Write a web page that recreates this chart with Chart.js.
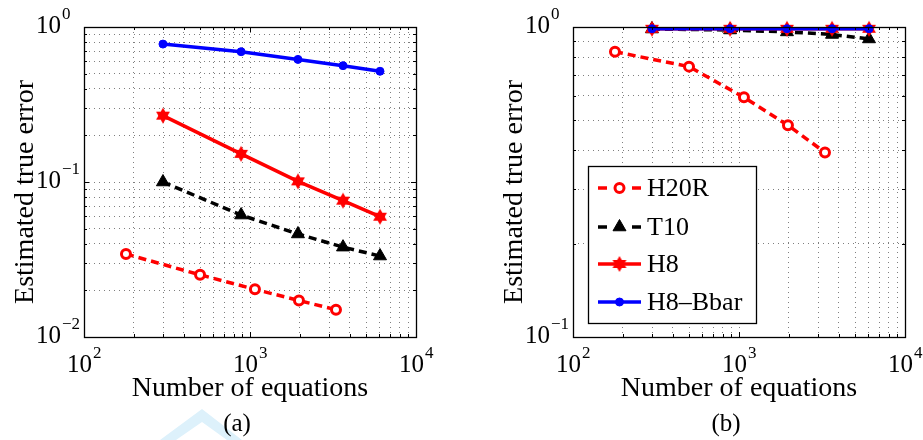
<!DOCTYPE html>
<html>
<head>
<meta charset="utf-8">
<title>Estimated true error vs number of equations</title>
<script src="https://cdn.jsdelivr.net/npm/chart.js@4.4.0/dist/chart.umd.min.js"></script>
<style>
  body { margin: 0; background: #fff; }
  #wrap { position: relative; width: 923px; height: 440px; }
  canvas { position: absolute; top: 0; }
</style>
</head>
<body>
<div id="wrap">
  <canvas id="chartA" width="461" height="440" style="left:0"></canvas>
  <canvas id="chartB" width="462" height="440" style="left:461px"></canvas>
</div>
<script>
// number of equations per mesh
const eqH20R = [179, 500, 1071, 1972, 3296];
const eqMesh = [299, 884, 1945, 3634, 6070];

// (a) estimated true error
const errA_H20R = [0.0343, 0.0252, 0.0203, 0.0172, 0.0150];
const errA_T10 = [0.100, 0.0612, 0.0462, 0.0380, 0.0333];
const errA_H8 = [0.268, 0.152, 0.101, 0.0758, 0.0597];
const errA_Bbar = [0.776, 0.693, 0.618, 0.563, 0.518];

// (b) estimated true error
const errB_H20R = [0.832, 0.745, 0.593, 0.482, 0.394];
const errB_T10 = [0.985, 0.978, 0.964, 0.946, 0.915];
const errB_H8 = [0.987, 0.987, 0.987, 0.987, 0.987];
const errB_Bbar = [0.987, 0.987, 0.987, 0.987, 0.987];

const seriesNames = ['H20R', 'T10', 'H8', 'H8\u2013Bbar'];

// tick labels: mantissa 10 with exponent
const xTicks = [100, 1000, 10000];
const xTickExp = ['2', '3', '4'];
const yTicksA = [0.01, 0.1, 1];
const yTickExpA = ['\u22122', '\u22121', '0'];
const yTicksB = [0.1, 1];
const yTickExpB = ['\u22121', '0'];

const SERIF = "'Liberation Serif', 'Times New Roman', serif";

// filled six-pointed star used as the H8 marker
function hexagram(r, color) {
  const c = document.createElement('canvas');
  const s = Math.ceil(r * 2 + 2);
  c.width = c.height = s;
  const g = c.getContext('2d');
  g.fillStyle = color;
  for (const rot of [-Math.PI / 2, Math.PI / 2]) {
    g.beginPath();
    for (let k = 0; k < 3; k++) {
      const ang = rot + k * 2 * Math.PI / 3;
      g.lineTo(s / 2 + r * Math.cos(ang), s / 2 + r * Math.sin(ang));
    }
    g.closePath();
    g.fill();
  }
  return c;
}
const starMarker = hexagram(8, '#ff0000');

function pts(xs, ys) {
  return xs.map((x, i) => ({ x: x, y: ys[i] }));
}

function buildDatasets(h20r, t10, h8, bbar) {
  return [
    { label: seriesNames[0], data: pts(eqH20R, h20r), order: 4,
      borderColor: '#ff0000', borderWidth: 3.5, borderDash: [8, 5],
      pointStyle: 'circle', pointRadius: 4.5, pointBorderWidth: 3,
      pointBorderColor: '#ff0000', pointBackgroundColor: '#ffffff' },
    { label: seriesNames[1], data: pts(eqMesh, t10), order: 3,
      borderColor: '#000000', borderWidth: 3.5, borderDash: [8, 5],
      pointStyle: 'triangle', pointRadius: 7.5, pointBorderWidth: 1,
      pointBorderColor: '#000000', pointBackgroundColor: '#000000' },
    { label: seriesNames[2], data: pts(eqMesh, h8), order: 2,
      borderColor: '#ff0000', borderWidth: 3.5, borderDash: [],
      pointStyle: starMarker, pointRadius: 8,
      pointBorderColor: '#ff0000', pointBackgroundColor: '#ff0000' },
    { label: seriesNames[3], data: pts(eqMesh, bbar), order: 1,
      borderColor: '#0000ff', borderWidth: 3.5, borderDash: [],
      pointStyle: 'circle', pointRadius: 4, pointBorderWidth: 1,
      pointBorderColor: '#0000ff', pointBackgroundColor: '#0000ff' }
  ];
}

// grid at 1..9 x 10^n across the axis range
function decadeGrid(scale) {
  const out = [];
  const e0 = Math.round(Math.log10(scale.min));
  const e1 = Math.round(Math.log10(scale.max));
  for (let e = e0; e <= e1; e++) {
    for (let m = 1; m <= 9; m++) {
      if (e === e1 && m > 1) break;
      out.push({ value: m * Math.pow(10, e), major: m === 1 });
    }
  }
  scale.ticks = out;
}

function seg(ctx, x0, y0, x1, y1) {
  ctx.beginPath();
  ctx.moveTo(x0, y0);
  ctx.lineTo(x1, y1);
  ctx.stroke();
}

function drawMarker(ctx, ds, x, y) {
  const st = ds.pointStyle;
  if (st instanceof HTMLCanvasElement) {
    ctx.drawImage(st, x - st.width / 2, y - st.height / 2);
    return;
  }
  const r = ds.pointRadius;
  ctx.setLineDash([]);
  ctx.beginPath();
  if (st === 'triangle') {
    for (let k = 0; k < 3; k++) {
      const ang = k * 2 * Math.PI / 3;
      ctx.lineTo(x + Math.sin(ang) * r, y - Math.cos(ang) * r);
    }
    ctx.closePath();
  } else {
    ctx.arc(x, y, r, 0, Math.PI * 2);
  }
  ctx.fillStyle = ds.pointBackgroundColor;
  ctx.fill();
  ctx.lineWidth = ds.pointBorderWidth;
  ctx.strokeStyle = ds.pointBorderColor;
  ctx.stroke();
}

// "10" with a raised exponent
function powerLabel(ctx, xRight, base, exp) {
  ctx.textAlign = 'right';
  ctx.textBaseline = 'alphabetic';
  ctx.font = '25px ' + SERIF;
  ctx.fillText('10', xRight, base);
  ctx.textAlign = 'left';
  ctx.font = '17px ' + SERIF;
  ctx.fillText(exp, xRight + 1, base - 14);
}

const framePlugin = {
  id: 'frame',
  beforeDraw(chart, args, opts) {
    if (!opts.mark) return;
    // pale chevron mark behind the caption
    const ctx = chart.ctx;
    ctx.save();
    ctx.fillStyle = '#ddf1fb';
    ctx.beginPath();
    ctx.moveTo(160, 440); ctx.lineTo(202, 409); ctx.lineTo(242, 440);
    ctx.lineTo(227, 440); ctx.lineTo(202, 422); ctx.lineTo(176, 440);
    ctx.closePath();
    ctx.fill();
    ctx.restore();
  },
  afterDraw(chart, args, opts) {
    const ctx = chart.ctx;
    const a = chart.chartArea;
    const xs = chart.scales.x, ys = chart.scales.y;
    ctx.save();
    ctx.strokeStyle = '#000';
    ctx.fillStyle = '#000';
    ctx.lineWidth = 1;
    ctx.setLineDash([]);

    // inward tick marks on all four sides
    xs.ticks.forEach(t => {
      const p = Math.round(xs.getPixelForValue(t.value)) + 0.5;
      const len = t.major ? 5 : 3;
      seg(ctx, p, a.bottom, p, a.bottom - len);
      seg(ctx, p, a.top, p, a.top + len);
    });
    ys.ticks.forEach(t => {
      const p = Math.round(ys.getPixelForValue(t.value)) + 0.5;
      const len = t.major ? 5 : 3;
      seg(ctx, a.left, p, a.left + len, p);
      seg(ctx, a.right, p, a.right - len, p);
    });

    // axes box
    ctx.lineWidth = 1.3;
    ctx.strokeRect(Math.round(a.left) + 0.5, Math.round(a.top) + 0.5,
      Math.round(a.right - a.left), Math.round(a.bottom - a.top));

    // tick labels
    opts.xTicks.forEach((v, i) => {
      const p = xs.getPixelForValue(v);
      powerLabel(ctx, p + 8, a.bottom + 35, opts.xExp[i]);
    });
    opts.yTicks.forEach((v, i) => {
      const p = ys.getPixelForValue(v);
      powerLabel(ctx, a.left - 23, p + 6, opts.yExp[i]);
    });

    // axis titles and caption
    const cx = (a.left + a.right) / 2;
    ctx.font = '28px ' + SERIF;
    ctx.textAlign = 'center';
    ctx.textBaseline = 'alphabetic';
    ctx.fillText('Number of equations', cx, a.bottom + 59);
    ctx.save();
    ctx.translate(a.left - 51, 192);
    ctx.rotate(-Math.PI / 2);
    ctx.fillText('Estimated true error', 0, 0);
    ctx.restore();
    ctx.font = '25px ' + SERIF;
    ctx.fillText(opts.caption, cx - 13, 431);

    if (opts.legend) {
      const lx = a.left + 15, ly = 166, lw = 168, lh = 157;
      ctx.fillStyle = '#fff';
      ctx.fillRect(lx, ly, lw, lh);
      ctx.lineWidth = 1.3;
      ctx.strokeStyle = '#000';
      ctx.strokeRect(lx + 0.5, ly + 0.5, lw, lh);
      const rows = [22, 61, 98, 136];
      chart.data.datasets.forEach((ds, i) => {
        const y = ly + rows[i];
        const x0 = lx + 10, x1 = lx + 53;
        ctx.strokeStyle = ds.borderColor;
        ctx.lineWidth = ds.borderWidth;
        ctx.setLineDash(ds.borderDash.length ? [9, 25] : []);
        seg(ctx, x0, y, x1, y);
        drawMarker(ctx, ds, (x0 + x1) / 2, y);
        ctx.fillStyle = '#000';
        ctx.font = '26px ' + SERIF;
        ctx.textAlign = 'left';
        ctx.textBaseline = 'middle';
        ctx.fillText(ds.label, lx + 59, y + 1);
      });
    }
    ctx.restore();
  }
};

function axis(min, max) {
  return {
    type: 'logarithmic',
    min: min,
    max: max,
    afterBuildTicks: decadeGrid,
    ticks: { display: false, autoSkip: false },
    grid: { color: 'rgba(0,0,0,0.5)', lineWidth: 1, drawTicks: false },
    border: { display: false, dash: [1, 4] }
  };
}

function makeChart(id, datasets, yMin, yMax, padLeft, padRight, frame) {
  return new Chart(document.getElementById(id), {
    type: 'scatter',
    data: { datasets: datasets.map(d => Object.assign({ showLine: true, clip: false }, d)) },
    options: {
      responsive: false,
      animation: false,
      events: [],
      layout: { padding: { left: padLeft, right: padRight, top: 27, bottom: 103 } },
      plugins: {
        legend: { display: false },
        tooltip: { enabled: false },
        frame: frame
      },
      scales: { x: axis(100, 10000), y: axis(yMin, yMax) }
    },
    plugins: [framePlugin]
  });
}

makeChart('chartA', buildDatasets(errA_H20R, errA_T10, errA_H8, errA_Bbar),
  0.01, 1, 84, 45,
  { caption: '(a)', legend: false, mark: true,
    xTicks: xTicks, xExp: xTickExp, yTicks: yTicksA, yExp: yTickExpA });

makeChart('chartB', buildDatasets(errB_H20R, errB_T10, errB_H8, errB_Bbar),
  0.1, 1, 112, 18,
  { caption: '(b)', legend: true, mark: false,
    xTicks: xTicks, xExp: xTickExp, yTicks: yTicksB, yExp: yTickExpB });
</script>
</body>
</html>
